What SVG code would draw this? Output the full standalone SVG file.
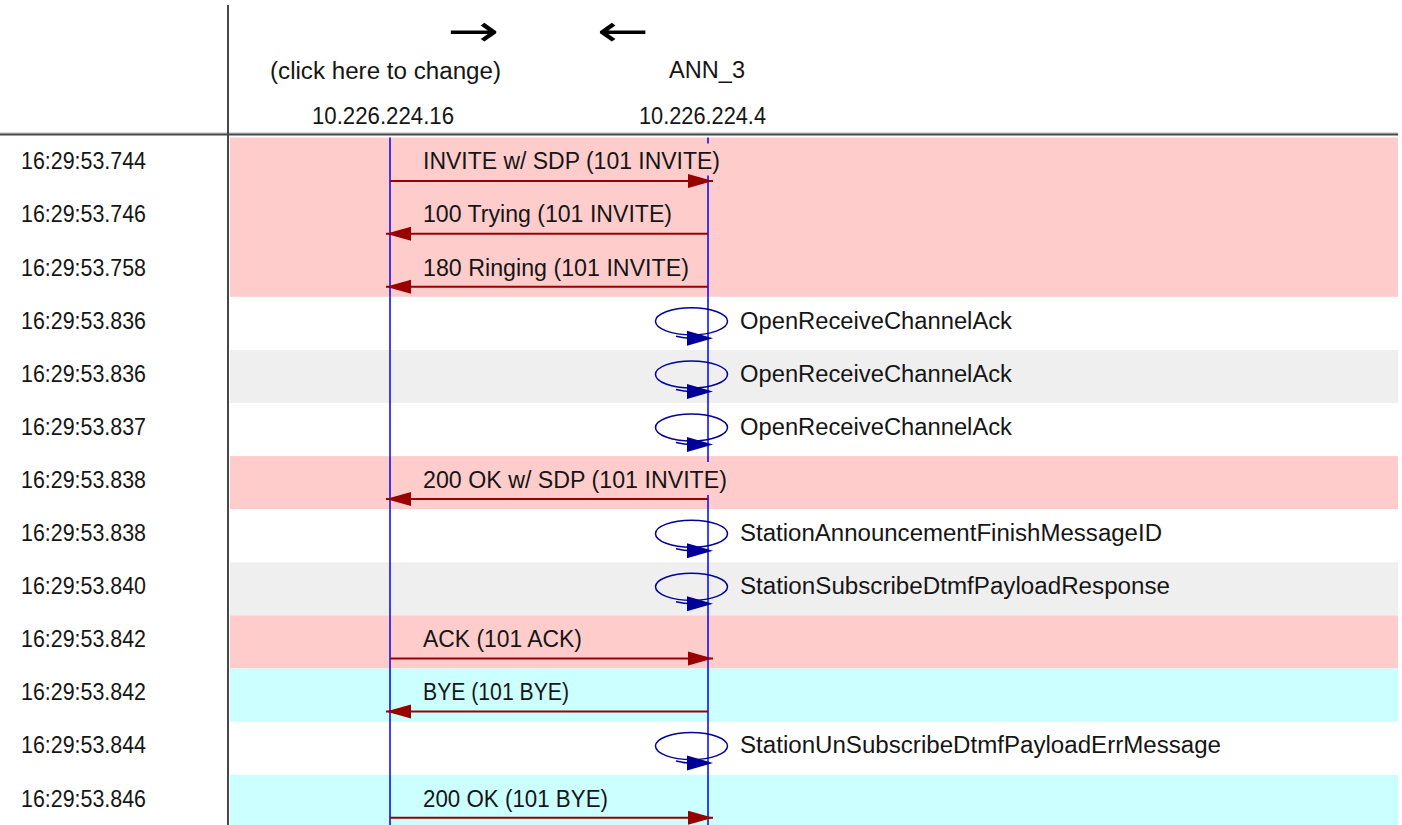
<svg xmlns="http://www.w3.org/2000/svg" xmlns:xlink="http://www.w3.org/1999/xlink" width="1402" height="825" viewBox="0 0 1402 825">
<style>
.pink{fill:#ffcccc}
.cyan{fill:#ccffff}
.gray{fill:#efefef}
.white{fill:#ffffff}
.t{font-family:"Liberation Sans",Arial,sans-serif;font-size:23px;fill:#151515}
.ar{font-family:"DejaVu Sans",sans-serif;font-size:44px;fill:#000}
.msg{stroke:#990000;stroke-width:2;fill:none}
.life{stroke:#0000ff;stroke-width:1.5}
.loop{stroke:#000099;stroke-width:1.5;fill:none}
.loophead{fill:#000099}
.frame{stroke:#474747;stroke-width:2}
</style>
<defs>
<marker id="ah" markerUnits="userSpaceOnUse" markerWidth="26" markerHeight="15" refX="25" refY="7" orient="auto">
<path d="M0,0 L25,7 L0,14 z" fill="#990000"/>
</marker>
<g id="selfloop">
<ellipse class="loop" cx="691.5" cy="24.5" rx="36" ry="13.5"/>
<path class="loop" d="M676,39.5 Q684,41.5 692,41.5"/>
<path class="loophead" d="M687,34 L713,41.5 L687,49 z"/>
</g>
</defs>
<rect width="1402" height="825" fill="#ffffff"/>
<g id="rows">
<rect class="pink" x="230" y="137.5" width="1168" height="159.3"/>
<rect class="gray" x="230" y="349.9" width="1168" height="53.1"/>
<rect class="pink" x="230" y="456.1" width="1168" height="53.1"/>
<rect class="gray" x="230" y="562.3" width="1168" height="53.1"/>
<rect class="pink" x="230" y="615.4" width="1168" height="53.1"/>
<rect class="cyan" x="230" y="668.5" width="1168" height="53.1"/>
<rect class="cyan" x="230" y="774.7" width="1168" height="53.1"/>
</g>
<g id="frame">
<line x1="0" y1="133" x2="1398" y2="133" stroke="#b8b8b8" stroke-width="1"/>
<line class="frame" x1="0" y1="134.5" x2="1398" y2="134.5"/>
<line class="frame" x1="228" y1="5" x2="228" y2="825"/>
</g>
<g id="timestamps">
<text class="t" x="21" y="169.3" textLength="125" lengthAdjust="spacingAndGlyphs">16:29:53.744</text>
<text class="t" x="21" y="222.4" textLength="125" lengthAdjust="spacingAndGlyphs">16:29:53.746</text>
<text class="t" x="21" y="275.5" textLength="125" lengthAdjust="spacingAndGlyphs">16:29:53.758</text>
<text class="t" x="21" y="328.6" textLength="125" lengthAdjust="spacingAndGlyphs">16:29:53.836</text>
<text class="t" x="21" y="381.7" textLength="125" lengthAdjust="spacingAndGlyphs">16:29:53.836</text>
<text class="t" x="21" y="434.8" textLength="125" lengthAdjust="spacingAndGlyphs">16:29:53.837</text>
<text class="t" x="21" y="487.9" textLength="125" lengthAdjust="spacingAndGlyphs">16:29:53.838</text>
<text class="t" x="21" y="541.0" textLength="125" lengthAdjust="spacingAndGlyphs">16:29:53.838</text>
<text class="t" x="21" y="594.1" textLength="125" lengthAdjust="spacingAndGlyphs">16:29:53.840</text>
<text class="t" x="21" y="647.2" textLength="125" lengthAdjust="spacingAndGlyphs">16:29:53.842</text>
<text class="t" x="21" y="700.3" textLength="125" lengthAdjust="spacingAndGlyphs">16:29:53.842</text>
<text class="t" x="21" y="753.4" textLength="125" lengthAdjust="spacingAndGlyphs">16:29:53.844</text>
<text class="t" x="21" y="806.5" textLength="125" lengthAdjust="spacingAndGlyphs">16:29:53.846</text>
</g>
<g id="direction">
<text class="ar" x="447" y="46" textLength="52" lengthAdjust="spacingAndGlyphs">→</text>
<text class="ar" x="597" y="46" textLength="52" lengthAdjust="spacingAndGlyphs">←</text>
</g>
<g id="node-10.226.224.16">
<text class="t" x="270" y="79" textLength="231" lengthAdjust="spacingAndGlyphs">(click here to change)</text>
<text class="t" x="312" y="124" textLength="142" lengthAdjust="spacingAndGlyphs">10.226.224.16</text>
<line class="life" x1="390" y1="137.5" x2="390" y2="825"/>
</g>
<g id="node-ANN_3">
<text class="t" x="669" y="78" textLength="76" lengthAdjust="spacingAndGlyphs">ANN_3</text>
<text class="t" x="639" y="124" textLength="127" lengthAdjust="spacingAndGlyphs">10.226.224.4</text>
<line class="life" x1="708" y1="137.5" x2="708" y2="825"/>
</g>
<g id="connectors">
<rect class="pink" x="419" y="143.5" width="304" height="32"/>
<text class="t" x="423" y="169.3" textLength="297" lengthAdjust="spacingAndGlyphs">INVITE w/ SDP (101 INVITE)</text>
<line class="msg" x1="390" y1="181" x2="713" y2="181" marker-end="url(#ah)"/>
<text class="t" x="423" y="222.4" textLength="249" lengthAdjust="spacingAndGlyphs">100 Trying (101 INVITE)</text>
<line class="msg" x1="708" y1="233.8" x2="386" y2="233.8" marker-end="url(#ah)"/>
<text class="t" x="423" y="275.5" textLength="266" lengthAdjust="spacingAndGlyphs">180 Ringing (101 INVITE)</text>
<line class="msg" x1="708" y1="286.7" x2="386" y2="286.7" marker-end="url(#ah)"/>
<use xlink:href="#selfloop" transform="translate(0,296.8)"/>
<text class="t" x="740" y="328.6" textLength="272" lengthAdjust="spacingAndGlyphs">OpenReceiveChannelAck</text>
<use xlink:href="#selfloop" transform="translate(0,349.9)"/>
<text class="t" x="740" y="381.7" textLength="272" lengthAdjust="spacingAndGlyphs">OpenReceiveChannelAck</text>
<use xlink:href="#selfloop" transform="translate(0,403.0)"/>
<text class="t" x="740" y="434.8" textLength="272" lengthAdjust="spacingAndGlyphs">OpenReceiveChannelAck</text>
<rect class="pink" x="419" y="462" width="311" height="33"/>
<text class="t" x="423" y="487.9" textLength="304" lengthAdjust="spacingAndGlyphs">200 OK w/ SDP (101 INVITE)</text>
<line class="msg" x1="708" y1="499" x2="386" y2="499" marker-end="url(#ah)"/>
<use xlink:href="#selfloop" transform="translate(0,509.2)"/>
<text class="t" x="740" y="541.0" textLength="422" lengthAdjust="spacingAndGlyphs">StationAnnouncementFinishMessageID</text>
<use xlink:href="#selfloop" transform="translate(0,562.3)"/>
<text class="t" x="740" y="594.1" textLength="430" lengthAdjust="spacingAndGlyphs">StationSubscribeDtmfPayloadResponse</text>
<text class="t" x="423" y="647.2" textLength="159" lengthAdjust="spacingAndGlyphs">ACK (101 ACK)</text>
<line class="msg" x1="390" y1="658.4" x2="713" y2="658.4" marker-end="url(#ah)"/>
<text class="t" x="423" y="700.3" textLength="146" lengthAdjust="spacingAndGlyphs">BYE (101 BYE)</text>
<line class="msg" x1="708" y1="711.5" x2="386" y2="711.5" marker-end="url(#ah)"/>
<use xlink:href="#selfloop" transform="translate(0,721.6)"/>
<text class="t" x="740" y="753.4" textLength="481" lengthAdjust="spacingAndGlyphs">StationUnSubscribeDtmfPayloadErrMessage</text>
<text class="t" x="423" y="806.5" textLength="185" lengthAdjust="spacingAndGlyphs">200 OK (101 BYE)</text>
<line class="msg" x1="390" y1="817.7" x2="713" y2="817.7" marker-end="url(#ah)"/>
</g>
</svg>
